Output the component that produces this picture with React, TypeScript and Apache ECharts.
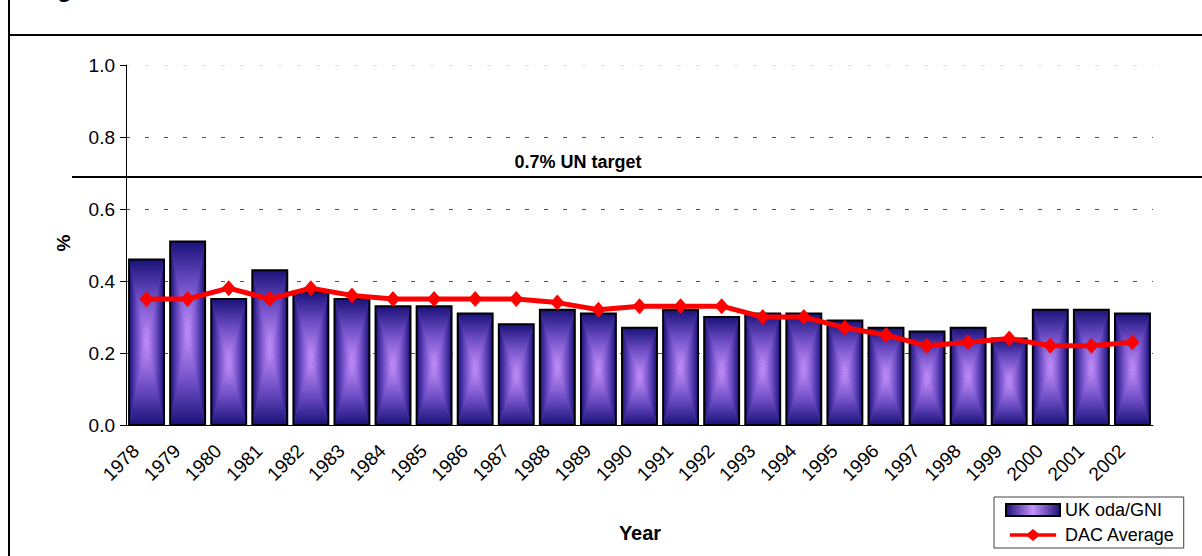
import React, { useEffect, useRef } from "react";
import * as echarts from "echarts";

const years = ["1978","1979","1980","1981","1982","1983","1984","1985","1986","1987","1988","1989","1990","1991","1992","1993","1994","1995","1996","1997","1998","1999","2000","2001","2002"];
const ukOdaGni = [0.46,0.51,0.35,0.43,0.37,0.35,0.33,0.33,0.31,0.28,0.32,0.31,0.27,0.32,0.30,0.31,0.31,0.29,0.27,0.26,0.27,0.24,0.32,0.32,0.31];
const dacAverage = [0.35,0.35,0.38,0.35,0.38,0.36,0.35,0.35,0.35,0.35,0.34,0.32,0.33,0.33,0.33,0.30,0.30,0.27,0.25,0.22,0.23,0.24,0.22,0.22,0.23];

const FONT = "Arial, 'Liberation Sans', sans-serif";
const EDGE = "#1a1278";
const MID = "#6c4cc4";
const CENTER = "#c892fc";

function grad(x: number, y: number, x2: number, y2: number) {
  return new echarts.graphic.LinearGradient(x, y, x2, y2, [
    { offset: 0, color: EDGE },
    { offset: 0.45, color: MID },
    { offset: 1, color: CENTER },
  ]);
}

const LINE_ICON =
  "path://M0,5 L21,5 L27,0 L33,5 L54,5 L54,9 L33,9 L27,14 L21,9 L0,9 Z";

export default function App() {
  const ref = useRef<HTMLDivElement>(null);
  useEffect(() => {
    if (!ref.current) return;
    const chart = echarts.init(ref.current, null, { renderer: "svg" });
    const legendGrad = new echarts.graphic.LinearGradient(0, 0, 1, 0, [
      { offset: 0, color: EDGE },
      { offset: 0.5, color: CENTER },
      { offset: 1, color: EDGE },
    ]);
    chart.setOption({
      animation: false,
      backgroundColor: "#ffffff",
      textStyle: { fontFamily: FONT },
      grid: { left: 126, right: 49, top: 65, bottom: 131 },
      xAxis: {
        type: "category",
        data: years,
        boundaryGap: true,
        axisLine: { lineStyle: { color: "#000", width: 1 } },
        axisTick: { interval: 0, length: 8, lineStyle: { color: "#000" } },
        axisLabel: {
          interval: 0,
          rotate: 45,
          fontSize: 19,
          color: "#000",
          fontFamily: FONT,
          margin: 12,
          padding: [0, 15, 0, 0],
        },
      },
      yAxis: {
        type: "value",
        min: 0,
        max: 1,
        interval: 0.2,
        axisLine: { show: true, lineStyle: { color: "#000", width: 1 } },
        axisTick: { show: true, length: 6, lineStyle: { color: "#000" } },
        axisLabel: {
          fontSize: 19,
          color: "#000",
          fontFamily: FONT,
          margin: 11,
          formatter: (v: number) => v.toFixed(1),
        },
        splitLine: {
          show: true,
          lineStyle: {
            type: [4, 15],
            color: ["#000", "#555", "#555", "#555", "#555", "#e0e0e0"],
            width: 1,
          },
        },
      },
      legend: {
        orient: "vertical",
        left: 994,
        top: 497,
        width: 170,
        padding: [4, 9, 4, 11],
        itemGap: 7,
        itemWidth: 54,
        itemHeight: 12,
        borderColor: "#404040",
        borderWidth: 1,
        backgroundColor: "#fff",
        textStyle: { fontSize: 18, color: "#000", fontFamily: FONT, lineHeight: 18 },
        data: [
          { name: "UK oda/GNI", icon: "rect", itemStyle: { color: legendGrad, borderColor: "#000", borderWidth: 2 } },
          { name: "DAC Average", icon: LINE_ICON, itemStyle: { color: "#ff0000", borderWidth: 0 } },
        ],
      },
      series: [
        {
          name: "UK oda/GNI",
          type: "custom",
          itemStyle: { color: legendGrad, borderColor: "#000", borderWidth: 2 },
          encode: { x: 0, y: 1 },
          data: ukOdaGni.map((v, i) => [i, v]),
          renderItem: (params: any, api: any) => {
            const idx = api.value(0);
            const val = api.value(1);
            const top = api.coord([idx, val]);
            const base = api.coord([idx, 0]);
            const w = api.size([1, 0])[0] * 0.85;
            const x0 = top[0] - w / 2;
            const x1 = top[0] + w / 2;
            const y0 = top[1];
            const y1 = base[1];
            const cx = top[0];
            const cy = (y0 + y1) / 2;
            return {
              type: "group",
              children: [
                { type: "rect", shape: { x: x0, y: y0, width: w, height: y1 - y0 }, style: { fill: MID } },
                { type: "polygon", shape: { points: [[x0, y0], [x1, y0], [cx, cy]] }, style: { fill: grad(0, 0, 0, 1) } },
                { type: "polygon", shape: { points: [[x0, y1], [x1, y1], [cx, cy]] }, style: { fill: grad(0, 1, 0, 0) } },
                { type: "polygon", shape: { points: [[x0, y0], [x0, y1], [cx, cy]] }, style: { fill: grad(0, 0, 1, 0) } },
                { type: "polygon", shape: { points: [[x1, y0], [x1, y1], [cx, cy]] }, style: { fill: grad(1, 0, 0, 0) } },
                { type: "rect", shape: { x: x0, y: y0, width: w, height: y1 - y0 }, style: { fill: "none", stroke: "#000", lineWidth: 2 } },
              ],
            };
          },
          z: 2,
        },
        {
          name: "DAC Average",
          type: "line",
          data: dacAverage,
          symbol: "diamond",
          symbolSize: [14, 16],
          lineStyle: { color: "#ff0000", width: 5 },
          itemStyle: { color: "#ff0000" },
          z: 5,
        },
      ],
      graphic: [
        { type: "line", shape: { x1: 9, y1: 0, x2: 9, y2: 556 }, style: { stroke: "#000", lineWidth: 2 } },
        { type: "line", shape: { x1: 8, y1: 35, x2: 1202, y2: 35 }, style: { stroke: "#000", lineWidth: 2 } },
        { type: "line", shape: { x1: 72, y1: 177, x2: 1202, y2: 177 }, style: { stroke: "#000", lineWidth: 2 }, z: 10 },
        {
          type: "text",
          left: 36,
          top: -24,
          style: { text: "Figure", font: `bold 24px ${FONT}`, fill: "#000" },
        },
        {
          type: "text",
          x: 578,
          y: 162,
          style: { text: "0.7% UN target", font: `bold 18px ${FONT}`, fill: "#000", align: "center", verticalAlign: "middle" },
        },
        {
          type: "text",
          x: 63,
          y: 243,
          rotation: Math.PI / 2,
          style: { text: "%", font: `bold 19px ${FONT}`, fill: "#000", align: "center", verticalAlign: "middle" },
        },
        {
          type: "text",
          x: 640,
          y: 533,
          style: { text: "Year", font: `bold 20px ${FONT}`, fill: "#000", align: "center", verticalAlign: "middle" },
        },
      ],
    });
    return () => chart.dispose();
  }, []);
  return (
    <div
      ref={ref}
      style={{ position: "absolute", left: 0, top: 0, width: 1202, height: 556 }}
    />
  );
}
